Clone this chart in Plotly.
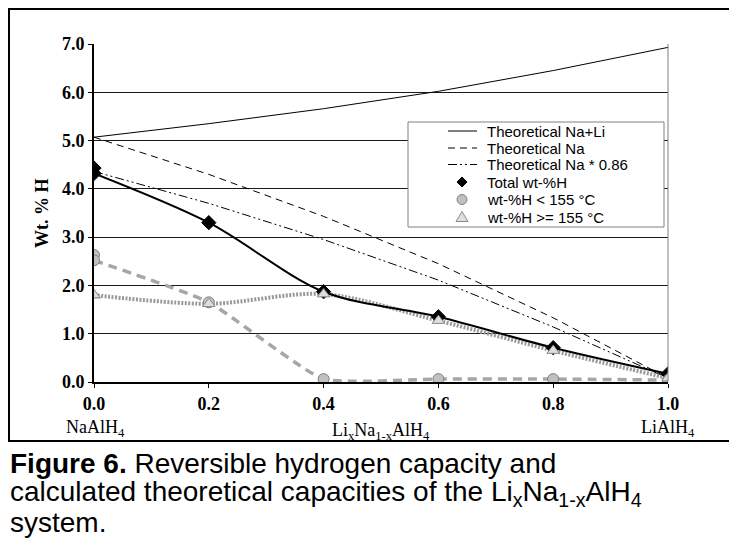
import plotly.graph_objects as go

# Composition x in Li_xNa_(1-x)AlH4
x_comp = [0.0, 0.2, 0.4, 0.6, 0.8, 1.0]

# Theoretical capacities (wt-% H)
theo_na_li = [5.07, 5.35, 5.66, 6.02, 6.45, 6.93]
theo_na = [5.07, 4.30, 3.43, 2.45, 1.33, 0.08]
theo_na_086 = [4.36, 3.70, 2.95, 2.11, 1.14, 0.08]

# Measured values (two runs at x = 0)
x_meas = [0.0, 0.0, 0.2, 0.4, 0.6, 0.8, 1.0]
total_wt = [4.43, 4.32, 3.30, 1.87, 1.35, 0.71, 0.17]
below_155 = [2.63, 2.52, 1.65, 0.06, 0.06, 0.06, 0.04]
above_155 = [1.80, 1.80, 1.62, 1.82, 1.27, 0.65, 0.08]

y_ticks = [0, 1, 2, 3, 4, 5, 6, 7]
x_ticks = [0.0, 0.2, 0.4, 0.6, 0.8, 1.0]

legend_labels = ["Theoretical Na+Li", "Theoretical Na", "Theoretical Na * 0.86",
                 "Total wt-%H", "wt-%H < 155 °C", "wt-%H >= 155 °C"]

caption_lines = [
    "<b>Figure 6.</b> Reversible hydrogen capacity and",
    "calculated theoretical capacities of the Li<sub>x</sub>Na<sub>1-x</sub>AlH<sub>4</sub>",
    "system.",
]

SERIF = "Liberation Serif"
SANS = "Liberation Sans"

# Series styles
NA_LI_LINE = dict(color="black", width=1)
NA_LINE = dict(color="black", width=1, dash="7px,5px")
NA086_LINE = dict(color="black", width=1, dash="9px,3px,2px,3px,2px,3px")
TOTAL_MARK = dict(symbol="diamond", size=11, color="black", line=dict(color="black", width=1))
LOW_MARK = dict(symbol="circle", size=11, color="#c0c0c0", line=dict(color="#7f7f7f", width=1))
HIGH_MARK = dict(symbol="triangle-up", size=11, color="#dedede", line=dict(color="#8c8c8c", width=1))

fig = go.Figure()

# Theoretical curves
fig.add_trace(go.Scatter(x=x_comp, y=theo_na_li, mode="lines", name=legend_labels[0], line=NA_LI_LINE))
fig.add_trace(go.Scatter(x=x_comp, y=theo_na, mode="lines", name=legend_labels[1], line=NA_LINE))
fig.add_trace(go.Scatter(x=x_comp, y=theo_na_086, mode="lines", name=legend_labels[2], line=NA086_LINE))

# Smoothed connecting lines for measured data (first x=0 run skipped for the line)
fig.add_trace(go.Scatter(x=x_meas[1:], y=below_155[1:], mode="lines",
                         line=dict(color="#a6a6a6", width=3.5, dash="9px,6px", shape="spline", smoothing=0.45)))
fig.add_trace(go.Scatter(x=x_meas[1:], y=above_155[1:], mode="lines",
                         line=dict(color="#999999", width=4, dash="2px,1.5px", shape="spline", smoothing=0.9)))
fig.add_trace(go.Scatter(x=x_meas[1:], y=total_wt[1:], mode="lines",
                         line=dict(color="black", width=2, shape="spline", smoothing=0.9)))

# Measured markers
fig.add_trace(go.Scatter(x=x_meas, y=total_wt, mode="markers", name=legend_labels[3], marker=TOTAL_MARK))
fig.add_trace(go.Scatter(x=x_meas, y=below_155, mode="markers", name=legend_labels[4], marker=LOW_MARK))
fig.add_trace(go.Scatter(x=x_meas, y=above_155, mode="markers", name=legend_labels[5], marker=HIGH_MARK))

L, R, T, B = 94, 61, 44, 166
W, H = 729, 548
pw, ph = W - L - R, H - T - B


def px_x(px):
    return (px - L) / pw


def px_y(py):
    return (H - B - py) / ph


def path(points):
    return "M " + " L ".join(f"{px_x(a):.5f},{px_y(b):.5f}" for a, b in points) + " Z"


fig.update_layout(
    width=W, height=H,
    margin=dict(l=L, r=R, t=T, b=B, pad=0),
    paper_bgcolor="white", plot_bgcolor="white",
    showlegend=False,
    xaxis=dict(range=[0, 1], tickvals=x_ticks, ticktext=[f"{v:.1f}" for v in x_ticks],
               tickfont=dict(family=SERIF, size=18, color="black", weight="bold"),
               showgrid=False, zeroline=False, showline=True, linecolor="black", linewidth=2,
               ticks="outside", ticklen=4, tickcolor="black", tickwidth=1),
    yaxis=dict(range=[0, 7], tickvals=y_ticks, ticktext=[f"{v:.1f}" for v in y_ticks],
               tickfont=dict(family=SERIF, size=18, color="black", weight="bold"),
               showgrid=True, gridcolor="#1a1a1a", gridwidth=1, zeroline=False,
               showline=True, linecolor="black", linewidth=2,
               ticks="outside", ticklen=4, tickcolor="black", tickwidth=1),
)

# Right border of plot area and outer frame
fig.add_shape(type="line", xref="paper", yref="paper", x0=1, x1=1, y0=0, y1=1,
              line=dict(color="#808080", width=1))
fig.add_shape(type="rect", xref="paper", yref="paper",
              x0=px_x(9), x1=px_x(731), y0=px_y(441), y1=px_y(9),
              line=dict(color="black", width=2), layer="below")

# Legend box
LEG_X0, LEG_X1, LEG_Y0, LEG_Y1 = 408, 664, 122, 227
fig.add_shape(type="rect", xref="paper", yref="paper",
              x0=px_x(LEG_X0), x1=px_x(LEG_X1), y0=px_y(LEG_Y1), y1=px_y(LEG_Y0),
              line=dict(color="#808080", width=1), fillcolor="white", layer="above")
row_y = [131, 148, 164.5, 182, 199.5, 217]
key_x0, key_x1, key_xc, text_x = 448, 477, 462, 485
for lbl, yy in zip(legend_labels, row_y):
    fig.add_annotation(text=lbl, xref="paper", yref="paper", x=px_x(text_x), y=px_y(yy),
                       xanchor="left", yanchor="middle", showarrow=False,
                       font=dict(family=SANS, size=15, color="black"))
for style, yy in zip([NA_LI_LINE, NA_LINE, NA086_LINE], row_y[:3]):
    fig.add_shape(type="line", xref="paper", yref="paper",
                  x0=px_x(key_x0), x1=px_x(key_x1), y0=px_y(yy), y1=px_y(yy),
                  line=style, layer="above")

# Legend keys for the marker series
r = 5
yd, yc, yt = row_y[3], row_y[4], row_y[5]
fig.add_shape(type="path", xref="paper", yref="paper",
              path=path([(key_xc, yd - r), (key_xc + r, yd), (key_xc, yd + r), (key_xc - r, yd)]),
              fillcolor=TOTAL_MARK["color"], line=dict(color=TOTAL_MARK["line"]["color"], width=1),
              layer="above")
fig.add_shape(type="circle", xref="paper", yref="paper",
              x0=px_x(key_xc - r), x1=px_x(key_xc + r), y0=px_y(yc + r), y1=px_y(yc - r),
              fillcolor=LOW_MARK["color"], line=dict(color=LOW_MARK["line"]["color"], width=1),
              layer="above")
fig.add_shape(type="path", xref="paper", yref="paper",
              path=path([(key_xc, yt - r - 0.5), (key_xc + r + 1, yt + r - 0.5), (key_xc - r - 1, yt + r - 0.5)]),
              fillcolor=HIGH_MARK["color"], line=dict(color=HIGH_MARK["line"]["color"], width=1),
              layer="above")

# Axis titles and composition labels
fig.add_annotation(text="<b>Wt. % H</b>", xref="paper", yref="paper", x=px_x(42), y=0.5,
                   textangle=-90, showarrow=False, xanchor="center", yanchor="middle",
                   font=dict(family=SERIF, size=18, color="black"))
fig.add_annotation(text="NaAlH<sub>4</sub>", xref="paper", yref="paper", x=px_x(95), y=px_y(428),
                   showarrow=False, xanchor="center", yanchor="middle",
                   font=dict(family=SERIF, size=18, color="black"))
fig.add_annotation(text="LiAlH<sub>4</sub>", xref="paper", yref="paper", x=px_x(668), y=px_y(428),
                   showarrow=False, xanchor="center", yanchor="middle",
                   font=dict(family=SERIF, size=18, color="black"))
fig.add_annotation(text="Li<sub>x</sub>Na<sub>1-x</sub>AlH<sub>4</sub>", xref="paper", yref="paper",
                   x=0.5, y=px_y(431), showarrow=False, xanchor="center", yanchor="middle",
                   font=dict(family=SERIF, size=18, color="black"))

# Figure caption, one annotation per line for tight line spacing
for line, yy in zip(caption_lines, [464, 493, 522]):
    fig.add_annotation(text=line, xref="paper", yref="paper", x=px_x(8), y=px_y(yy),
                       xanchor="left", yanchor="middle", align="left", showarrow=False,
                       font=dict(family=SANS, size=28, color="black"))

fig.write_html("out.html")
